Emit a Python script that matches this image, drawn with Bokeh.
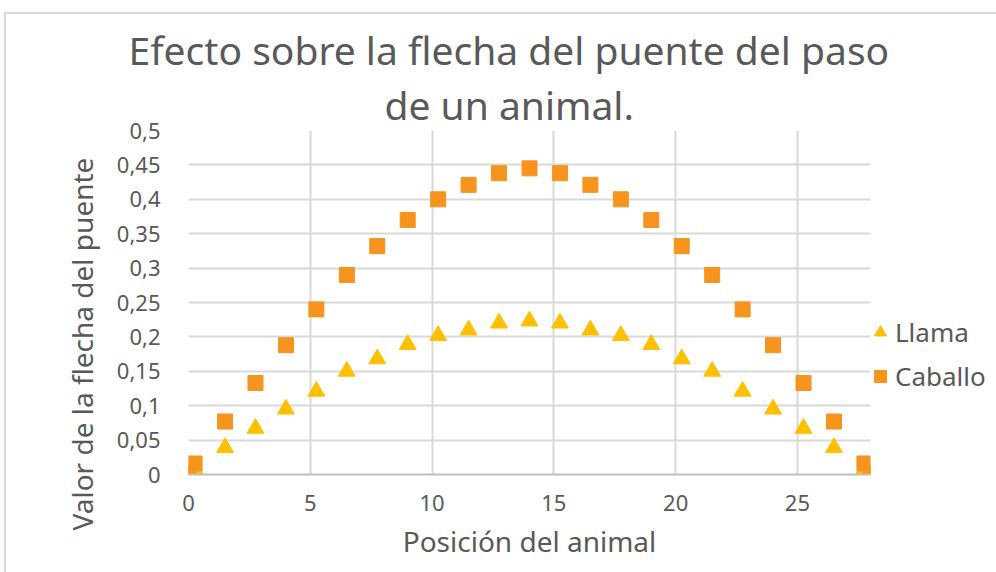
from bokeh.plotting import figure
from bokeh.models import (Range1d, FixedTicker, Legend, LegendItem, Title,
                          ColumnDataSource, InlineStyleSheet)
from bokeh.embed import file_html
from bokeh.resources import INLINE

# ---- data ----
posicion = [0, 0.25, 1.5, 2.75, 4, 5.25, 6.5, 7.75, 9, 10.25, 11.5, 12.75, 14,
            15.25, 16.5, 17.75, 19, 20.25, 21.5, 22.75, 24, 25.25, 26.5, 27.75, 28]
llama = [0, 0.008, 0.039, 0.067, 0.095, 0.121, 0.150, 0.168, 0.189, 0.202, 0.210, 0.220, 0.223,
         0.220, 0.210, 0.202, 0.189, 0.168, 0.150, 0.121, 0.095, 0.067, 0.039, 0.008, 0]
caballo = [0, 0.016, 0.077, 0.133, 0.188, 0.240, 0.290, 0.332, 0.370, 0.400, 0.421, 0.438, 0.445,
           0.438, 0.421, 0.400, 0.370, 0.332, 0.290, 0.240, 0.188, 0.133, 0.077, 0.016, 0]
x_ticks = [0, 5, 10, 15, 20, 25]
y_ticks = [0, 0.05, 0.1, 0.15, 0.2, 0.25, 0.3, 0.35, 0.4, 0.45, 0.5]
y_tick_labels = ["0", "0,05", "0,1", "0,15", "0,2", "0,25", "0,3", "0,35", "0,4", "0,45", "0,5"]
title_lines = ["Efecto sobre la flecha del puente del paso", "de un animal."]
x_label = "Posición del animal"
y_label = "Valor de la flecha del puente"

FONT = "Noto Sans"
GREY = "#595959"

border_css = InlineStyleSheet(css="""
:host { position: relative; }
:host::after { content: ''; position: absolute; left: 4px; top: 12px; right: 0; bottom: 0;
  border-style: solid; border-color: #D9D9D9; border-width: 2px 0 0 2px; pointer-events: none; }
""")

p = figure(frame_width=682, frame_height=344, output_backend="svg", toolbar_location=None,
           x_range=Range1d(0, 28), y_range=Range1d(0, 0.5),
           min_border_left=188, min_border_right=126, min_border_top=130, min_border_bottom=98,
           stylesheets=[border_css])
p.title = None
p.outline_line_color = None
p.background_fill_color = "white"
p.border_fill_color = "white"

src = ColumnDataSource(dict(x=posicion, llama=llama, caballo=caballo))
r_ll = p.scatter("x", "llama", source=src, marker="triangle", size=17,
                 fill_color="#FFC000", line_color="#FFC000")
r_cb = p.scatter("x", "caballo", source=src, marker="square", size=15,
                 fill_color="#F7941D", line_color="#F7941D")

# axes
p.xaxis.ticker = FixedTicker(ticks=x_ticks)
p.yaxis.ticker = FixedTicker(ticks=y_ticks)
p.yaxis.major_label_overrides = {t: l for t, l in zip(y_ticks, y_tick_labels)}
for ax in (p.xaxis[0], p.yaxis[0]):
    ax.major_tick_line_color = None
    ax.minor_tick_line_color = None
    ax.major_label_text_font = FONT
    ax.major_label_text_font_size = "22px"
    ax.major_label_text_color = GREY
    ax.axis_label_text_font = FONT
    ax.axis_label_text_font_size = "28px"
    ax.axis_label_text_color = GREY
    ax.axis_label_text_font_style = "normal"
p.yaxis.axis_line_color = None
p.xaxis.axis_line_color = "#BFBFBF"
p.xaxis.axis_line_width = 2
p.xaxis.axis_label = x_label
p.xaxis.major_label_standoff = 14
p.yaxis.major_label_standoff = 22
p.xaxis.axis_label_standoff = 8

p.xgrid.grid_line_color = "#D9D9D9"
p.ygrid.grid_line_color = "#D9D9D9"
p.xgrid.grid_line_width = 2
p.ygrid.grid_line_width = 2

# y axis title placed as a side title so it can sit lower, as in the original
p.add_layout(Title(text=y_label, align="left", offset=-56, text_font=FONT,
                   text_font_size="28px", text_color=GREY, text_font_style="normal",
                   standoff=26), "left")

# title (two lines), left-aligned with offsets so that each line is centred near x=508
title_offsets = [-60, 196]
for line, off in reversed(list(zip(title_lines, title_offsets))):
    p.add_layout(Title(text=line, align="left", offset=off, text_font=FONT,
                       text_font_size="39px", text_color=GREY, text_font_style="normal",
                       standoff=0), "above")

# legend
legend = Legend(items=[LegendItem(label="Llama", renderers=[r_ll]),
                       LegendItem(label="Caballo", renderers=[r_cb])],
                label_text_font=FONT, label_text_font_size="26px",
                label_text_color=GREY, border_line_color=None,
                background_fill_alpha=0, glyph_width=30, glyph_height=30,
                label_standoff=-2, spacing=8, padding=0, margin=0,
                location=(-5, 80))
p.add_layout(legend, "right")

open("out.html", "w").write(file_html(p, INLINE))
